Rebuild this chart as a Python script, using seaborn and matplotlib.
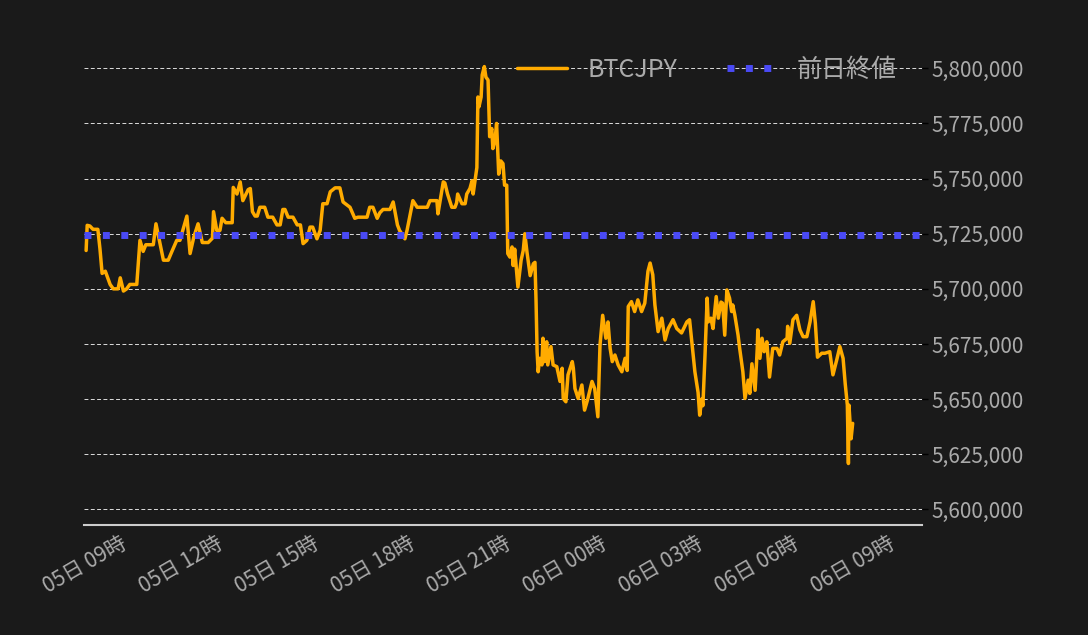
import pandas as pd
import numpy as np
import matplotlib
matplotlib.use('Agg')
import matplotlib.pyplot as plt
import matplotlib.dates as mdates
import matplotlib.ticker as mticker
import seaborn as sns

# minutes after 05日 09:00, price in thousand JPY
minutes = [2, 4, 9, 15, 24, 28, 32, 38, 47, 53, 62, 66, 72, 78, 84, 97, 103, 109, 114, 128,
           133, 141, 147, 156, 163, 172, 178, 191, 197, 204, 212, 220, 231, 239, 241, 247, 253, 257, 264, 276,
           278, 285, 291, 296, 306, 310, 314, 319, 323, 328, 337, 343, 352, 360, 366, 371, 375, 381, 390, 398,
           404, 409, 416, 422, 427, 435, 441, 446, 454, 460, 469, 478, 484, 497, 506, 512, 529, 534, 540, 548,
           553, 559, 572, 578, 586, 590, 600, 604, 615, 623, 642, 647, 660, 662, 672, 675, 680, 688, 694, 697,
           699, 707, 713, 716, 722, 726, 728, 732, 735, 737, 739, 743, 745, 749, 752, 756, 759, 763, 765, 769,
           772, 776, 780, 784, 787, 791, 793, 797, 801, 803, 806, 810, 812, 818, 822, 825, 829, 835, 841, 844,
           846, 848, 850, 853, 857, 859, 862, 866, 868, 874, 878, 885, 891, 895, 897, 902, 906, 914, 916, 919,
           925, 932, 937, 943, 951, 956, 962, 966, 971, 977, 981, 985, 989, 994, 1000, 1007, 1013, 1017, 1019, 1025,
           1031, 1037, 1044, 1050, 1056, 1060, 1065, 1069, 1075, 1082, 1088, 1094, 1103, 1110, 1119, 1129, 1134, 1140, 1144, 1150,
           1153, 1157, 1159, 1163, 1167, 1169, 1174, 1178, 1184, 1188, 1193, 1196, 1200, 1204, 1209, 1213, 1215, 1219, 1225, 1228,
           1234, 1238, 1244, 1247, 1251, 1257, 1261, 1262, 1266, 1270, 1274, 1279, 1284, 1290, 1298, 1303, 1309, 1317, 1318, 1322,
           1328, 1335, 1341, 1347, 1354, 1360, 1366, 1370, 1374, 1382, 1388, 1397, 1403, 1410, 1416, 1422, 1426, 1430, 1432, 1433,
           1437, 1440]
price_k = [5717.4, 5728.8, 5728.5, 5727, 5727, 5718, 5707, 5708, 5702, 5700, 5700, 5705, 5699, 5700, 5702, 5702, 5722, 5717, 5720, 5720,
           5729.5, 5720, 5713, 5713, 5717, 5722, 5722, 5733, 5716, 5723.5, 5729.5, 5721, 5721, 5723, 5735, 5726.5, 5726.5, 5732, 5730, 5730,
           5746, 5743, 5748.5, 5740, 5745, 5745.5, 5735, 5733, 5733, 5737, 5737, 5732.5, 5732.5, 5729, 5729, 5736, 5736, 5732.5, 5732.5, 5729,
           5729, 5720.5, 5722, 5728, 5728, 5722.7, 5726.5, 5738.6, 5738.6, 5744, 5745.8, 5745.8, 5739.4, 5737, 5732, 5732.5, 5732.5, 5737, 5737, 5732,
           5734.5, 5736, 5736, 5739.4, 5729, 5726.5, 5722.7, 5726.5, 5740, 5737, 5737, 5740, 5740, 5734, 5748.5, 5748, 5743, 5737, 5737, 5739,
           5743, 5738.6, 5738.6, 5743, 5745.5, 5749, 5743, 5750, 5755, 5787, 5782.6, 5787, 5797, 5800.8, 5796, 5794.7, 5769, 5772.7, 5763.6, 5767.4,
           5775, 5752, 5758, 5756.8, 5747, 5747, 5716, 5714.4, 5719, 5710.6, 5718, 5706.8, 5700.8, 5713, 5717.4, 5725, 5716.7, 5706, 5711.4, 5712,
           5694.7, 5671.5, 5662.4, 5668.5, 5665.5, 5677.6, 5667, 5676, 5665.5, 5673.8, 5665.5, 5664.7, 5658, 5664, 5650.3, 5648.8, 5661, 5667, 5664, 5654.8,
           5650.3, 5656.4, 5645, 5650, 5658, 5654.8, 5642, 5674.5, 5688, 5677.6, 5685, 5673, 5667, 5670, 5665.5, 5662.4, 5668.5, 5663, 5692, 5694.2,
           5689.7, 5695, 5689.7, 5693.5, 5708, 5711.7, 5706.4, 5692.7, 5680.6, 5686.7, 5676.8, 5682, 5686, 5682, 5680, 5685, 5686, 5672, 5662.4, 5653,
           5642.7, 5650, 5647, 5670, 5695.8, 5685, 5686.7, 5682, 5696.5, 5686.7, 5694, 5693.5, 5679, 5699.5, 5695.8, 5689.7, 5692.7, 5688, 5679, 5673,
           5662.4, 5650.3, 5658.6, 5652.6, 5666, 5654, 5673, 5681.4, 5668.5, 5677.6, 5671.5, 5676, 5660, 5673, 5673, 5670, 5676, 5677.6, 5683, 5675.3,
           5686, 5688, 5681.4, 5678.3, 5678.3, 5685, 5694.2, 5684.4, 5669, 5670.8, 5670.8, 5671.5, 5661, 5667.7, 5673.8, 5668.5, 5657, 5647.3, 5620.8, 5647.3,
           5632, 5639]
prev_close = 5724200
start = pd.Timestamp('2021-09-05 09:00')
x_end_minutes = 1570

df = pd.DataFrame({'time': start + pd.to_timedelta(minutes, unit='m'),
                   'price': np.array(price_k) * 1000})

bg = '#1a1a1a'
txt = '#aaaaaa'
sns.set_style('dark')
plt.rcParams['font.family'] = ['Noto Sans CJK JP', 'DejaVu Sans']

fig = plt.figure(figsize=(10.88, 6.35), dpi=100, facecolor=bg)
ax = fig.add_axes([0.0772, 0.1732, 0.7702, 0.7685])
ax.set_facecolor(bg)

sns.lineplot(data=df, x='time', y='price', ax=ax, color='#ffab00', linewidth=2.5, label='BTCJPY')
ax.axhline(prev_close, color='#4a4af5', linestyle=':', linewidth=5, label='前日終値', zorder=3)

ax.set_xlim(start - pd.Timedelta(minutes=2), start + pd.Timedelta(minutes=x_end_minutes))
ax.set_ylim(5592900, 5814200)
ax.yaxis.set_major_locator(mticker.MultipleLocator(25000))
ax.yaxis.set_major_formatter(mticker.FuncFormatter(lambda v, p: f'{v:,.0f}'))
ax.yaxis.tick_right()
ax.xaxis.set_major_locator(mdates.HourLocator(byhour=range(0, 24, 3)))
ax.xaxis.set_major_formatter(mdates.DateFormatter('%d日 %H時'))
plt.setp(ax.get_xticklabels(), rotation=30, ha='center')

ax.tick_params(axis='y', labelsize=15, labelcolor=txt, color='black', length=4, width=1, pad=2.5)
ax.tick_params(axis='x', labelsize=15, labelcolor=txt, color='black', length=2.5, width=1, pad=3)
ax.grid(axis='y', color='white', linestyle=(0, (4, 2.5)), linewidth=0.7, alpha=0.85)
ax.grid(axis='x', visible=False)
ax.set_xlabel('')
ax.set_ylabel('')
for s in ['top', 'left', 'right']:
    ax.spines[s].set_visible(False)
ax.spines['bottom'].set_color('#cccccc')
ax.spines['bottom'].set_linewidth(1.5)

leg = ax.legend(loc='upper right', ncol=2, frameon=False, fontsize=18, labelcolor=txt,
                borderaxespad=0.0, bbox_to_anchor=(0.982, 0.98))

fig.savefig('out.png', dpi=100, facecolor=bg)
